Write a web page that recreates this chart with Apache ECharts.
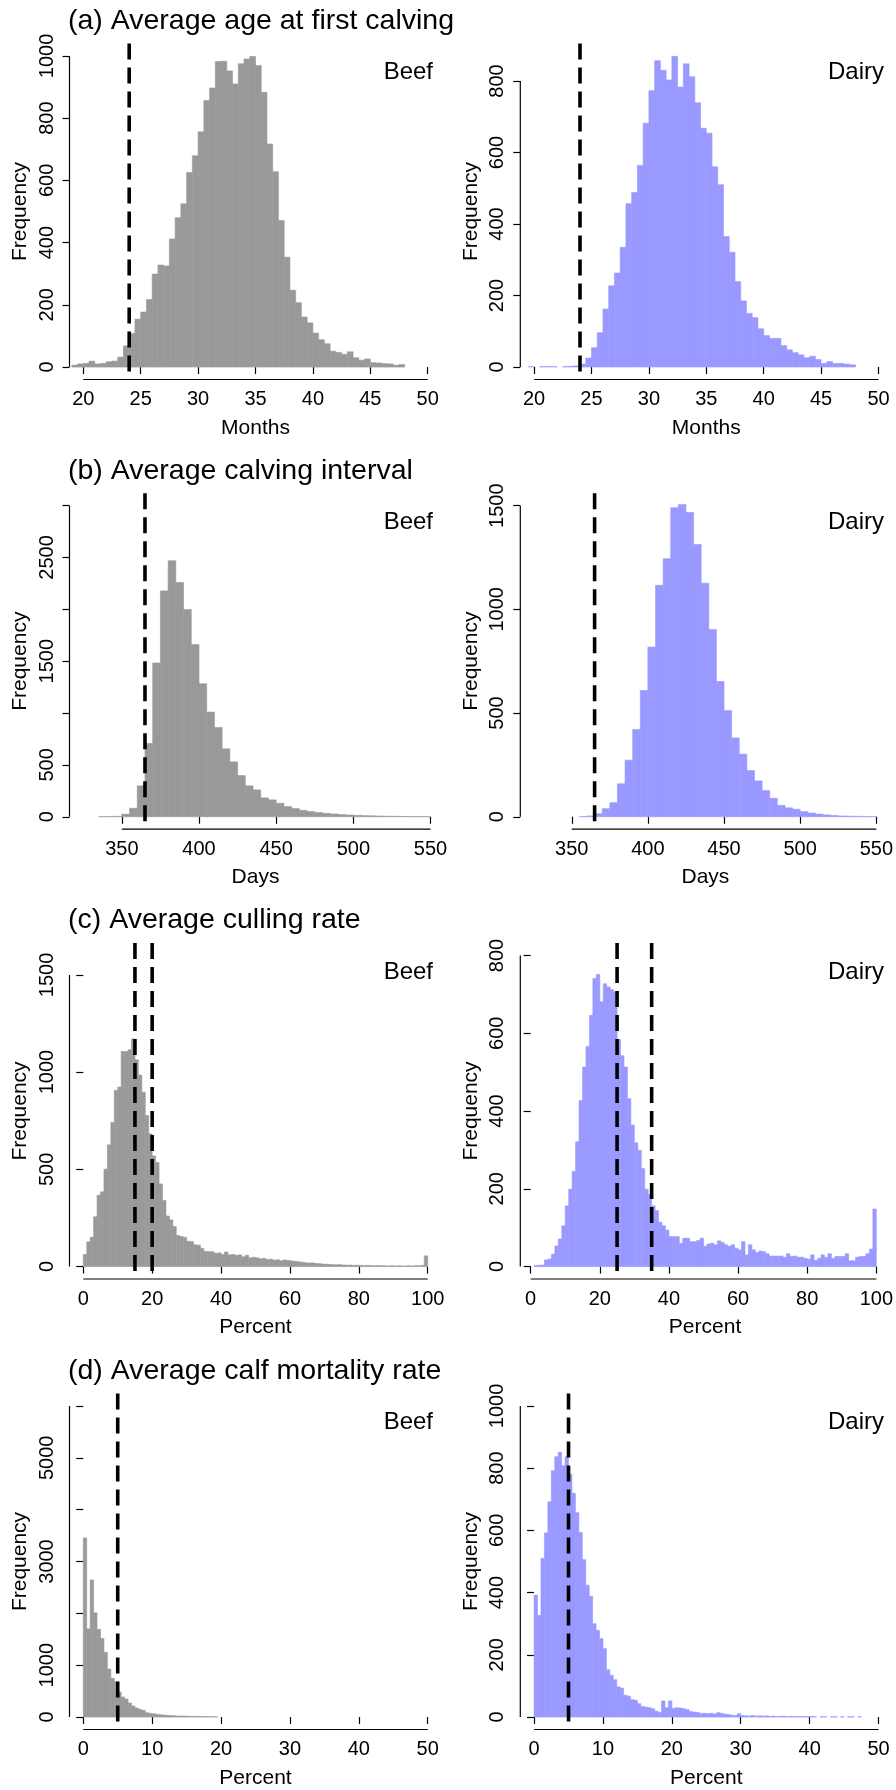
<!DOCTYPE html>
<html>
<head>
<meta charset="utf-8">
<title>Beef and dairy herd histograms</title>
<script src="https://cdn.jsdelivr.net/npm/echarts@6.0.0/dist/echarts.min.js"></script>
<style>
  html, body { margin: 0; padding: 0; background: #fff; }
  #chart { width: 896px; height: 1790px; }
</style>
</head>
<body>
<div id="chart"></div>
<script>
// ---- data (bin counts per panel) ----

// (a) average age at first calving, months, bins of 0.5
const ageBeefStart = 19
const ageBeefCounts = [6, 10, 12, 19, 10, 12, 17, 19, 32, 68, 108, 154, 177, 217, 299, 328, 325, 412, 480, 525,
  625, 679, 756, 857, 897, 982, 983, 952, 910, 975, 990, 998, 969, 883, 717, 628, 471, 353, 247, 207,
  161, 142, 109, 88, 75, 51, 47, 41, 49, 30, 22, 26, 14, 13, 11, 10, 6, 8]
const ageDairyStart = 19.5
const ageDairyCounts = [1, 0, 1, 1, 1, 0, 1, 2, 3, 8, 25, 54, 96, 162, 227, 263, 335, 457, 488, 564,
  682, 773, 857, 830, 803, 869, 783, 848, 812, 739, 668, 654, 560, 510, 365, 321, 239, 185, 150, 138,
  107, 88, 80, 80, 60, 48, 40, 34, 26, 30, 21, 10, 15, 10, 10, 8, 6]

// (b) average calving interval, days, bins of 5
const intervalBeefStart = 335
const intervalBeefCounts = [1, 2, 4, 25, 82, 298, 707, 1483, 2178, 2468, 2259, 1998, 1660, 1283, 1009, 861,
  655, 529, 397, 298, 259, 182, 163, 130, 98, 79, 62, 50, 40, 33, 27, 21, 17, 14, 11, 9, 7, 5, 4, 3, 2, 2, 1]
const intervalDairyStart = 355
const intervalDairyCounts = [1, 4, 15, 39, 68, 159, 273, 421, 609, 818, 1116, 1244, 1490, 1506, 1467, 1313,
  1126, 903, 652, 512, 380, 302, 223, 173, 126, 89, 55, 43, 36, 25, 18, 13, 9, 6, 4, 3, 2, 1, 1]

// (c) average culling rate, percent, bins of 1
const cullBeefStart = 0
const cullBeefCounts = [62, 127, 151, 256, 367, 384, 501, 626, 741, 906,
  923, 1106, 1106, 1115, 1171, 1063, 985, 897, 777, 683,
  569, 535, 425, 340, 260, 240, 206, 160, 154, 150,
  130, 128, 112, 110, 94, 78, 77, 76, 68, 70,
  62, 75, 60, 62, 58, 60, 50, 58, 45, 48,
  45, 40, 42, 36, 38, 33, 35, 30, 34, 32,
  29, 27, 25, 22, 20, 18, 19, 16, 15, 13,
  12, 11, 10, 9, 10, 8, 7, 8, 6, 7,
  6, 5, 6, 5, 4, 5, 4, 4, 3, 4,
  3, 4, 3, 3, 4, 3, 5, 4, 6, 55]
const cullDairyStart = 0
const cullDairyCounts = [0, 3, 3, 4, 17, 19, 32, 53, 71, 105,
  156, 199, 245, 321, 427, 513, 566, 646, 741, 751,
  681, 727, 719, 712, 706, 584, 542, 513, 432, 364,
  318, 299, 252, 199, 186, 156, 144, 114, 105, 94,
  77, 77, 77, 60, 73, 73, 64, 64, 67, 73,
  52, 58, 60, 56, 66, 62, 56, 52, 56, 47,
  43, 64, 30, 56, 43, 36, 40, 38, 33, 27,
  27, 27, 27, 24, 33, 26, 27, 24, 24, 21,
  19, 30, 16, 21, 30, 24, 33, 21, 26, 26,
  26, 33, 15, 15, 24, 26, 26, 33, 45, 148]

// (d) average calf mortality rate, percent, bins of 0.5
const mortBeefStart = 0
const mortBeefCounts = [3454, 1701, 2645, 2010, 1692, 1515, 1247, 925, 748, 678,
  483, 387, 348, 271, 213, 174, 148, 129, 84, 71,
  64, 52, 45, 39, 32, 26, 26, 20, 19, 18,
  14, 13, 12, 12, 10, 9, 8, 7, 5]
const mortDairyStart = 0
const mortDairyCounts = [392, 327, 510, 592, 692, 792, 837, 851, 808, 837,
  780, 719, 657, 593, 506, 424, 388, 300, 279, 252,
  220, 152, 134, 120, 97, 93, 70, 67, 56, 54,
  43, 34, 32, 30, 27, 19, 15, 52, 30, 52,
  28, 30, 29, 27, 24, 18, 16, 15, 12, 12,
  11, 12, 10, 14, 12, 9, 8, 6, 5, 11,
  5, 4, 3, 5, 3, 4, 3, 4, 2, 3,
  2, 2, 3, 1, 2, 2, 1, 2, 1, 1,
  2, 1, 0, 1, 1, 0, 1, 1, 0, 1,
  0, 1, 1, 0, 1]

// reference lines (dashed)
const ageRefs = [24]
const intervalRefs = [365]
const cullBeefRefs = [15, 20]
const cullDairyRefs = [25, 35]
const mortRefs = [5]

// tick values and labels
const ageTicks = [20, 25, 30, 35, 40, 45, 50]
const intervalTicks = [350, 400, 450, 500, 550]
const cullTicks = [0, 20, 40, 60, 80, 100]
const mortTicks = [0, 10, 20, 30, 40, 50]
const ageBeefYTicks = [0, 200, 400, 600, 800, 1000]
const ageDairyYTicks = [0, 200, 400, 600, 800]
const intervalBeefYTicks = [0, 500, 1000, 1500, 2000, 2500, 3000]
const intervalBeefYLabels = [0, 500, 1500, 2500]
const intervalDairyYTicks = [0, 500, 1000, 1500]
const cullBeefYTicks = [0, 500, 1000, 1500]
const cullDairyYTicks = [0, 200, 400, 600, 800]
const mortBeefYTicks = [0, 1000, 2000, 3000, 4000, 5000, 6000]
const mortBeefYLabels = [0, 1000, 3000, 5000]
const mortDairyYTicks = [0, 200, 400, 600, 800, 1000]

const rowTitles = ['(a) Average age at first calving', '(b) Average calving interval',
  '(c) Average culling rate', '(d) Average calf mortality rate']
const xNames = ['Months', 'Days', 'Percent', 'Percent']

// ---- layout ----
const FONT = '"Liberation Sans", Arial, Helvetica, sans-serif'
const BEEF = '#999999'
const DAIRY = '#9999ff'
const GRID_LEFT = [69.5, 520.3]
const GRID_TOP = [43.5, 493.2, 943, 1393.5]
const GRID_W = 372
const GRID_H = 336
const LABEL_RIGHT = [463, 12]

const panels = [
  { row: 0, col: 0, label: 'Beef', color: BEEF, start: ageBeefStart, bin: 0.5, counts: ageBeefCounts,
    refs: ageRefs, xTicks: ageTicks, yTicks: ageBeefYTicks, yLabels: ageBeefYTicks, xr: [18.8, 51.2], yr: [-40, 1040] },
  { row: 0, col: 1, label: 'Dairy', color: DAIRY, start: ageDairyStart, bin: 0.5, counts: ageDairyCounts,
    refs: ageRefs, xTicks: ageTicks, yTicks: ageDairyYTicks, yLabels: ageDairyYTicks, xr: [18.8, 51.2], yr: [-35, 905] },
  { row: 1, col: 0, label: 'Beef', color: BEEF, start: intervalBeefStart, bin: 5, counts: intervalBeefCounts,
    refs: intervalRefs, xTicks: intervalTicks, yTicks: intervalBeefYTicks, yLabels: intervalBeefYLabels, xr: [316.1, 557.1], yr: [-120, 3120] },
  { row: 1, col: 1, label: 'Dairy', color: DAIRY, start: intervalDairyStart, bin: 5, counts: intervalDairyCounts,
    refs: intervalRefs, xTicks: intervalTicks, yTicks: intervalDairyYTicks, yLabels: intervalDairyYTicks, xr: [316.2, 559.3], yr: [-60, 1560] },
  { row: 2, col: 0, label: 'Beef', color: BEEF, start: cullBeefStart, bin: 1, counts: cullBeefCounts,
    refs: cullBeefRefs, xTicks: cullTicks, yTicks: cullBeefYTicks, yLabels: cullBeefYTicks, xr: [-4, 104], yr: [-64, 1664] },
  { row: 2, col: 1, label: 'Dairy', color: DAIRY, start: cullDairyStart, bin: 1, counts: cullDairyCounts,
    refs: cullDairyRefs, xTicks: cullTicks, yTicks: cullDairyYTicks, yLabels: cullDairyYTicks, xr: [-3, 103.9], yr: [-32, 832] },
  { row: 3, col: 0, label: 'Beef', color: BEEF, start: mortBeefStart, bin: 0.5, counts: mortBeefCounts,
    refs: mortRefs, xTicks: mortTicks, yTicks: mortBeefYTicks, yLabels: mortBeefYLabels, xr: [-2, 52], yr: [-240, 6240] },
  { row: 3, col: 1, label: 'Dairy', color: DAIRY, start: mortDairyStart, bin: 0.5, counts: mortDairyCounts,
    refs: mortRefs, xTicks: mortTicks, yTicks: mortDairyYTicks, yLabels: mortDairyYTicks, xr: [-2, 52], yr: [-40, 1040] }
]

function renderBar(params, api) {
  if (!api.value(2)) return null
  const p0 = api.coord([api.value(0), api.value(2)])
  const p1 = api.coord([api.value(1), 0])
  const color = api.visual('color')
  return {
    type: 'rect',
    shape: { x: p0[0], y: p0[1], width: p1[0] - p0[0], height: p1[1] - p0[1] },
    style: { fill: color, stroke: color, lineWidth: 0.6 }
  }
}

const grids = [], xAxes = [], yAxes = [], series = [], titles = []
const tickStyle = { color: '#000', width: 1.2 }
const numText = { color: '#000', fontSize: 20, fontFamily: FONT }
const plain = v => String(v)

rowTitles.forEach((t, r) => {
  titles.push({
    text: t, left: 68, top: GRID_TOP[r] - 37, padding: 0,
    textStyle: { fontSize: 28.5, fontWeight: 'normal', color: '#000', fontFamily: FONT }
  })
})

panels.forEach((p, i) => {
  grids.push({ left: GRID_LEFT[p.col], top: GRID_TOP[p.row], width: GRID_W, height: GRID_H })
  titles.push({
    text: p.label, right: LABEL_RIGHT[p.col], top: GRID_TOP[p.row] + 17, padding: 0,
    textStyle: { fontSize: 24, fontWeight: 'normal', color: '#000', fontFamily: FONT }
  })
  xAxes.push({
    gridIndex: i, type: 'value', min: p.xr[0], max: p.xr[1],
    axisLine: { show: false }, splitLine: { show: false },
    axisTick: { show: true, customValues: p.xTicks, length: 7, lineStyle: tickStyle },
    axisLabel: Object.assign({ customValues: p.xTicks, margin: 10, formatter: plain }, numText),
    name: xNames[p.row], nameLocation: 'middle', nameGap: 38,
    nameTextStyle: { fontSize: 21, color: '#000', fontFamily: FONT }
  })
  yAxes.push({
    gridIndex: i, type: 'value', min: p.yr[0], max: p.yr[1],
    axisLine: { show: false }, splitLine: { show: false },
    axisTick: { show: true, customValues: p.yTicks, length: 7, lineStyle: tickStyle },
    axisLabel: Object.assign({ customValues: p.yLabels, rotate: 90, margin: 12.5, formatter: plain }, numText),
    name: 'Frequency', nameLocation: 'middle', nameRotate: 90, nameGap: 39,
    nameTextStyle: { fontSize: 21, color: '#000', fontFamily: FONT }
  })

  series.push({
    type: 'custom', xAxisIndex: i, yAxisIndex: i, silent: true,
    itemStyle: { color: p.color },
    encode: { x: [0, 1], y: 2 },
    data: p.counts.map((c, k) => [p.start + k * p.bin, p.start + (k + 1) * p.bin, c]),
    renderItem: renderBar
  })

  // R style axis lines, only over the tick range
  const xt = p.xTicks, yt = p.yTicks
  series.push({
    type: 'line', xAxisIndex: i, yAxisIndex: i, silent: true, clip: false, symbol: 'none',
    lineStyle: tickStyle,
    data: [[xt[0], p.yr[0]], [xt[xt.length - 1], p.yr[0]]]
  })
  series.push({
    type: 'line', xAxisIndex: i, yAxisIndex: i, silent: true, clip: false, symbol: 'none',
    lineStyle: tickStyle,
    data: [[p.xr[0], yt[0]], [p.xr[0], yt[yt.length - 1]]]
  })

  p.refs.forEach(v => {
    series.push({
      type: 'line', xAxisIndex: i, yAxisIndex: i, silent: true, clip: false, symbol: 'none',
      lineStyle: { color: '#000', width: 3.6, type: [16, 8], cap: 'butt' },
      data: [[v, p.yr[1]], [v, p.yr[0]]]
    })
  })
})

const chart = echarts.init(document.getElementById('chart'))
chart.setOption({
  animation: false,
  backgroundColor: '#fff',
  title: titles,
  grid: grids,
  xAxis: xAxes,
  yAxis: yAxes,
  series: series
})
window.addEventListener('resize', function () {
  chart.resize()
})
</script>
</body>
</html>
